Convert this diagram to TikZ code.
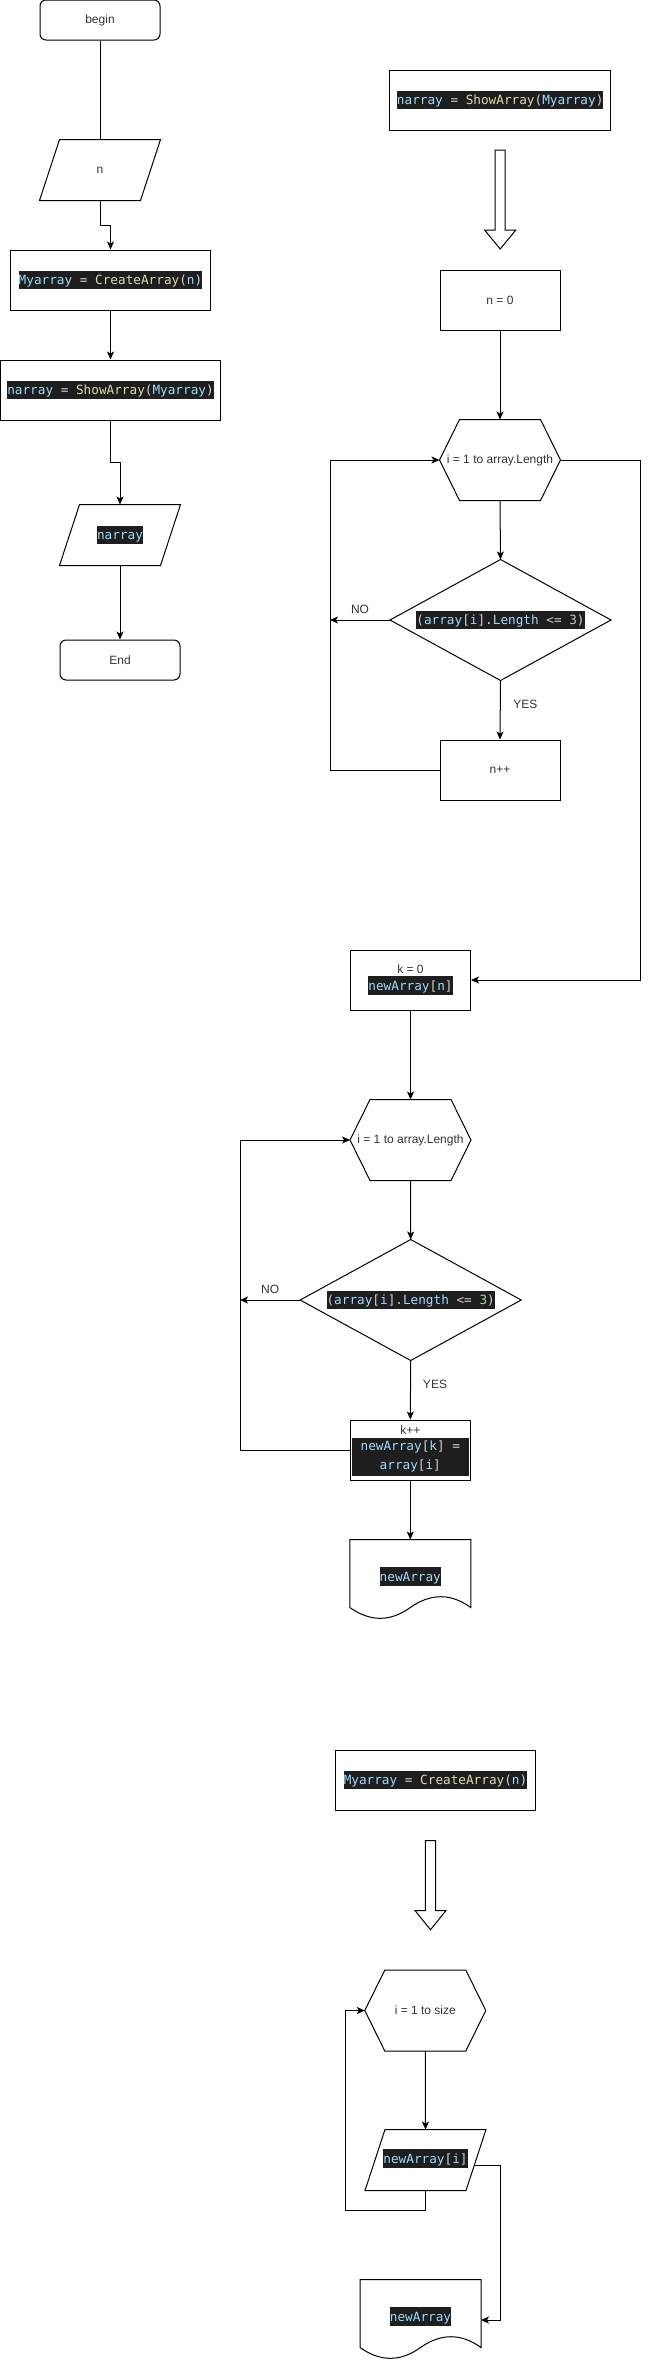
\documentclass[tikz,border=0pt]{standalone}
\usepackage{fontspec}
\setmainfont{Liberation Sans}
\newfontfamily\codefont{DejaVu Sans Mono}
\usetikzlibrary{calc,arrows.meta}
\definecolor{codebg}{HTML}{1E1E1E}
\definecolor{cvar}{HTML}{9CDCFE}
\definecolor{cfun}{HTML}{DCDCAA}
\definecolor{cop}{HTML}{D4D4D4}
\definecolor{cnum}{HTML}{B5CEA8}
\definecolor{txt}{HTML}{333333}
\newcommand{\cV}[1]{\textcolor{cvar}{#1}}
\newcommand{\cF}[1]{\textcolor{cfun}{#1}}
\newcommand{\cO}[1]{\textcolor{cop}{#1}}
\newcommand{\cN}[1]{\textcolor{cnum}{#1}}
\newcommand{\cfs}{\codefont\fontsize{12.7}{19}\selectfont}
\newcommand{\codeb}[1]{{\setlength{\fboxsep}{0pt}\colorbox{codebg}{\rule[-4.6pt]{0pt}{18.8pt}\cfs #1}}}
\newcommand{\paraout}[1]{\draw ($(#1.north west)+(20,0)$) -- (#1.north east) -- ($(#1.south east)+(-20,0)$) -- (#1.south west) -- cycle;}
\newcommand{\hexout}[1]{\draw (#1.west) -- ($(#1.north west)+(20,0)$) -- ($(#1.north east)+(-20,0)$) -- (#1.east) -- ($(#1.south east)+(-20,0)$) -- ($(#1.south west)+(20,0)$) -- cycle;}
\newcommand{\diaout}[1]{\draw (#1.north) -- (#1.east) -- (#1.south) -- (#1.west) -- cycle;}
\newcommand{\docout}[1]{\draw (#1.north west) -- (#1.north east) -- ($(#1.north east)+(0,68)$) .. controls ($(#1.north east)+(-20,53.6)$) and ($(#1.north east)+(-40,53.6)$) .. ($(#1.north)+(0,68)$) .. controls ($(#1.north)+(-20,82.4)$) and ($(#1.north)+(-40,82.4)$) .. ($(#1.north west)+(0,68)$) -- cycle;}
\begin{document}
\begin{tikzpicture}[x=1pt,y=-1pt,line width=1pt,
  every node/.style={text=txt,font=\fontsize{12}{14}\selectfont,inner sep=0pt,align=center},
  sz/.style 2 args={minimum width=#1,minimum height=#2},
  boxn/.style={draw=black},
  term/.style={draw=black,rounded corners=6pt},
  arr/.style={-{Stealth[length=8pt,width=7pt,inset=2pt]}},
  lbl/.style={text=txt}]
\fill[white] (0,0) rectangle (649,2361);
\useasboundingbox (0,0) rectangle (649,2361);
% left column
\node[term,sz={120}{40}] (begin) at (100,20) {begin};
\node[sz={120}{60}] (nin) at (100,170) {n};
\paraout{nin}
\node[boxn,sz={200.4}{60}] (ca) at (110.5,280) {\codeb{\cV{Myarray} \cO{=} \cF{CreateArray}\cO{(}\cV{n}\cO{)}}};
\node[boxn,sz={220}{60}] (sa) at (110.5,390) {\codeb{\cV{narray} \cO{=} \cF{ShowArray}\cO{(}\cV{Myarray}\cO{)}}};
\node[sz={120}{60}] (narr) at (120,535) {\codeb{\cV{narray}}};
\paraout{narr}
\node[term,sz={120}{40}] (endn) at (120,660) {End};
\draw (begin.south) -- (nin.north);
\draw[arr] (nin.south) -- ++(0,25) -| (ca.north);
\draw[arr] (ca.south) -- (sa.north);
\draw[arr] (sa.south) -- ++(0,42) -| (narr.north);
\draw[arr] (narr.south) -- (endn.north);
% right column
\node[boxn,sz={220.5}{60}] (sa2) at (500.2,100) {\codeb{\cV{narray} \cO{=} \cF{ShowArray}\cO{(}\cV{Myarray}\cO{)}}};
\draw (495.2,150) -- (505.2,150) -- (505.2,230) -- (515.8,230) -- (500.2,249) -- (484.6,230) -- (495.2,230) -- cycle;
\node[boxn,sz={120}{60}] (n0) at (500,300) {n = 0};
\node[sz={120}{80}] (hex1) at (500,460) {i = 1 to array.Length};
\hexout{hex1}
\node[sz={220}{120}] (dia1) at (500.5,620) {\codeb{\cO{(}\cV{array}\cO{[}\cV{i}\cO{]}\cO{.}\cV{Length} \cO{<=} \cN{3}\cO{)}}};
\diaout{dia1}
\node[boxn,sz={120}{60}] (npp) at (500,770) {n++};
\coordinate (L1) at (330,0);
\coordinate (RC) at (640,0);
\draw[arr] (n0.south) -- (hex1.north);
\draw[arr] (hex1.south) -- (dia1.north);
\draw[arr] (dia1.west) -- (dia1.west -| L1) node[lbl,midway,yshift=11pt] {NO};
\draw[arr] (dia1.south) -- (npp.north) node[lbl,midway,xshift=25pt,yshift=6pt] {YES};
\draw[arr] (npp.west) -- (npp.west -| L1) |- (hex1.west);
% second part
\node[boxn,sz={120}{60}] (k0) at (410.5,980) {k = 0\\[1pt]\codeb{\cV{newArray}\cO{[}\cV{n}\cO{]}}};
\draw[arr] (hex1.east) -- (hex1.east -| RC) |- (k0.east);
\node[sz={120}{80}] (hex2) at (410.5,1140) {i = 1 to array.Length};
\hexout{hex2}
\node[sz={220}{120}] (dia2) at (410.7,1300) {\codeb{\cO{(}\cV{array}\cO{[}\cV{i}\cO{]}\cO{.}\cV{Length} \cO{<=} \cN{3}\cO{)}}};
\diaout{dia2}
\node[boxn,sz={120}{60}] (kpp) at (410.3,1450) {{\setlength{\fboxsep}{0pt}%
  \begin{tabular}{@{}c@{}}k++\\[-1pt]\colorbox{codebg}{\parbox[c][38pt][c]{117pt}{\centering\cfs\setlength{\baselineskip}{18.5pt}\cV{newArray}\cO{[}\cV{k}\cO{]} \cO{=}\\\cV{array}\cO{[}\cV{i}\cO{]}}}\end{tabular}}};
\node[sz={120}{80}] (doc1) at (410.3,1580) {\raisebox{12pt}{\codeb{\cV{newArray}}}};
\docout{doc1}
\coordinate (L2) at (240,0);
\draw[arr] (k0.south) -- (hex2.north);
\draw[arr] (hex2.south) -- (dia2.north);
\draw[arr] (dia2.west) -- (dia2.west -| L2) node[lbl,midway,yshift=11pt] {NO};
\draw[arr] (dia2.south) -- (kpp.north) node[lbl,midway,xshift=24.5pt,yshift=6pt] {YES};
\draw[arr] (kpp.west) -- (kpp.west -| L2) |- (hex2.west);
\draw[arr] (kpp.south) -- (doc1.north);
% third part
\node[boxn,sz={200.4}{60}] (ca2) at (435.5,1780) {\codeb{\cV{Myarray} \cO{=} \cF{CreateArray}\cO{(}\cV{n}\cO{)}}};
\draw (425.3,1840.6) -- (435.7,1840.6) -- (435.7,1910.5) -- (446,1910.5) -- (430.5,1929.7) -- (415,1910.5) -- (425.3,1910.5) -- cycle;
\node[sz={120}{80}] (hex3) at (425.3,2010.5) {i = 1 to size};
\hexout{hex3}
\node[sz={120}{60}] (para2) at (425.5,2160) {\raisebox{7pt}{\codeb{\cV{newArray}\cO{[}\cV{i}\cO{]}}}};
\paraout{para2}
\node[sz={120}{80}] (doc2) at (420.5,2320) {\raisebox{11pt}{\codeb{\cV{newArray}}}};
\docout{doc2}
\coordinate (p2br) at ($(para2.south east)+(-20,0)$);
\coordinate (p2r) at ($(para2.north east)!0.583!(p2br)$);
\draw[arr] (hex3.south) -- (para2.north);
\draw[arr] (para2.south) -- ++(0,20) -- ++(-80,0) |- (hex3.west);
\draw[arr] (p2r) -- ++(26.5,0) |- (doc2.east);
\end{tikzpicture}
\end{document}
